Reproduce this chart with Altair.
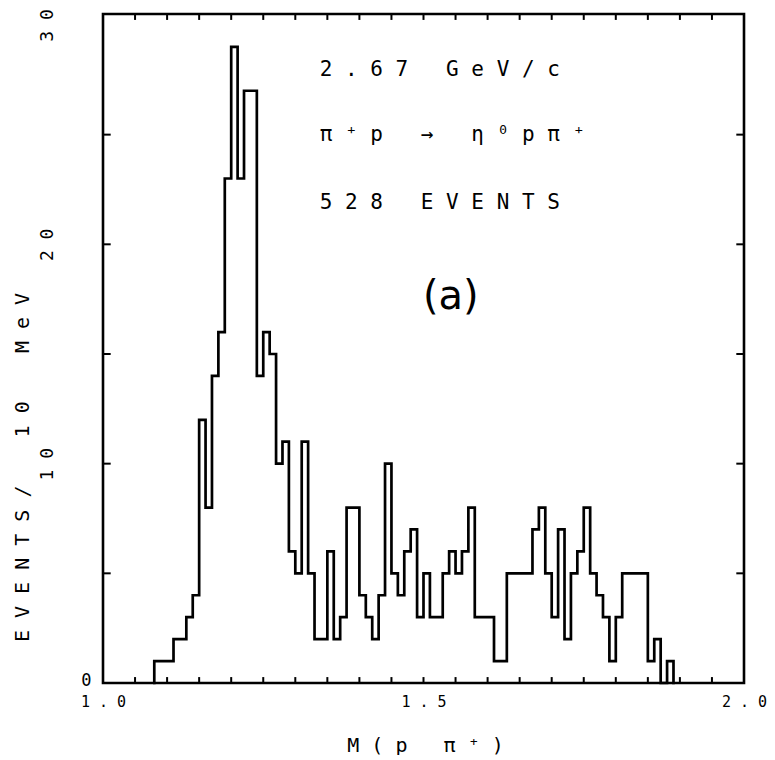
import altair as alt
import pandas as pd

# ---- data (events per 10 MeV bin) ----
bin_start = 1.08          # left edge of the first non-empty bin
bin_width = 0.01          # 10 MeV
counts = [
    1, 1, 1, 2, 2, 3, 4, 12, 8, 14,      # 1.08 - 1.17
    16, 23, 29, 23, 27, 27, 14, 16, 15, 10,  # 1.18 - 1.27
    11, 6, 5, 11, 5, 2, 2, 6, 2, 3,      # 1.28 - 1.37
    8, 8, 4, 3, 2, 4, 10, 5, 4, 6,       # 1.38 - 1.47
    7, 3, 5, 3, 3, 5, 6, 5, 6, 8,        # 1.48 - 1.57
    3, 3, 3, 1, 1, 5, 5, 5, 5, 7,        # 1.58 - 1.67
    8, 5, 3, 7, 2, 5, 6, 8, 5, 4,        # 1.68 - 1.77
    3, 1, 3, 5, 5, 5, 5, 1, 2, 0,        # 1.78 - 1.87
    1,                                   # 1.88
]
x_labels = [1.0, 1.5, 2.0]
y_labels = [10, 20, 30]
y_zero_label = "0"
x_minor = [1.05, 1.10, 1.15, 1.20, 1.25, 1.30, 1.35, 1.40, 1.45, 1.50,
           1.55, 1.60, 1.65, 1.70, 1.75, 1.80, 1.85, 1.90, 1.95]
y_minor = [5, 10, 15, 20, 25]

NB = "\u00a0"


def sp(s):
    return s.replace(" ", NB)


line1 = sp("2 . 6 7   G e V / c")
line2 = sp("π ⁺ p   →   η ⁰ p π ⁺")
line3 = sp("5 2 8   E V E N T S")
panel = "(a)"
x_title = sp("M ( p   π ⁺ )")
y_title = sp("E V E N T S /    1 0    M e V")

# ---- build the step outline table ----
edges = [round(bin_start + k * bin_width, 2) for k in range(len(counts) + 1)]
rows = [{"i": 0, "m": edges[0], "n": 0}]
for k, c in enumerate(counts):
    rows.append({"i": k + 1, "m": edges[k], "n": c})
rows.append({"i": len(counts) + 1, "m": edges[-1], "n": 0})
df = pd.DataFrame(rows)

XMAX = 2.0
YMAX = 30.5
xscale = alt.Scale(domain=[1.0, XMAX], nice=False, zero=False)
yscale = alt.Scale(domain=[0, YMAX], nice=False, zero=True)

MONO = "DejaVu Sans Mono"
x_expr = "replace(datum.label, '.', '\u00a0.\u00a0')"
y_expr = "length(datum.label) > 1 ? slice(datum.label, 0, 1) + '\u00a0' + slice(datum.label, 1) : datum.label"

x_axis = alt.Axis(
    values=x_labels, format=".1f", labelExpr=x_expr, ticks=False, domain=False,
    grid=False, labelFont=MONO, labelFontSize=15, labelColor="black",
    labelPadding=11, labelFlush=False, labelAngle=0,
    title=x_title, titleFont=MONO, titleFontSize=20, titleFontWeight="normal",
    titleColor="black", titleX=322, titleY=62, titleAlign="center",
    titleBaseline="middle",
)
y_axis = alt.Axis(
    values=y_labels, format="d", labelExpr=y_expr, ticks=False, domain=False,
    grid=False, labelFont=MONO, labelFontSize=18, labelColor="black",
    labelAngle=-90, labelAlign="center", labelBaseline="middle",
    labelPadding=56,
    title=y_title, titleFont=MONO, titleFontSize=20, titleFontWeight="normal",
    titleColor="black", titleX=-81, titleY=453, titleAngle=-90,
    titleAlign="center", titleBaseline="middle",
)

hist = alt.Chart(df).mark_line(
    interpolate="step-after", color="black", strokeWidth=2.7,
    strokeJoin="miter", strokeCap="square",
).encode(
    x=alt.X("m:Q", scale=xscale, axis=x_axis, title=x_title),
    y=alt.Y("n:Q", scale=yscale, axis=y_axis, title=y_title),
    order="i:Q",
)

tick_w = 2
yt = pd.DataFrame({"n": y_minor})
xt = pd.DataFrame({"m": x_minor})
left_ticks = alt.Chart(yt).mark_rule(color="black", strokeWidth=tick_w).encode(
    y=alt.Y("n:Q", scale=yscale),
    x=alt.XDatum(1.0), x2=alt.X2Datum(1.012),
)
right_ticks = alt.Chart(yt).mark_rule(color="black", strokeWidth=tick_w).encode(
    y=alt.Y("n:Q", scale=yscale),
    x=alt.XDatum(XMAX - 0.012), x2=alt.X2Datum(XMAX),
)
bottom_ticks = alt.Chart(xt).mark_rule(color="black", strokeWidth=tick_w).encode(
    x=alt.X("m:Q", scale=xscale),
    y=alt.YDatum(0), y2=alt.Y2Datum(0.27),
)
top_ticks = alt.Chart(xt).mark_rule(color="black", strokeWidth=tick_w).encode(
    x=alt.X("m:Q", scale=xscale),
    y=alt.YDatum(YMAX - 0.27), y2=alt.Y2Datum(YMAX),
)

one = pd.DataFrame({"k": [0]})


def note(txt, x, y, font=MONO, size=21, align="left"):
    return alt.Chart(one).mark_text(
        font=font, fontSize=size, align=align, baseline="middle", color="black"
    ).encode(
        x=alt.XDatum(x), y=alt.YDatum(y), text=alt.value(txt)
    )


notes = [
    note(line1, 1.338, 27.94),
    note(line2, 1.338, 24.97),
    note(line3, 1.338, 21.88),
    note(panel, 1.5426, 17.6, font="DejaVu Sans", size=40, align="center"),
    note(y_zero_label, 0.974, 0.1, size=17, align="center"),
]

chart = alt.layer(
    hist, left_ticks, right_ticks, bottom_ticks, top_ticks, *notes
).properties(
    width=641, height=669,
    autosize=alt.AutoSizeParams(type="none"),
    padding={"left": 95, "top": 6, "right": 23, "bottom": 72},
    background="white",
).configure_view(stroke="black", strokeWidth=2.6)

chart.save("out.html", embed_options={"renderer": "svg", "actions": False})
